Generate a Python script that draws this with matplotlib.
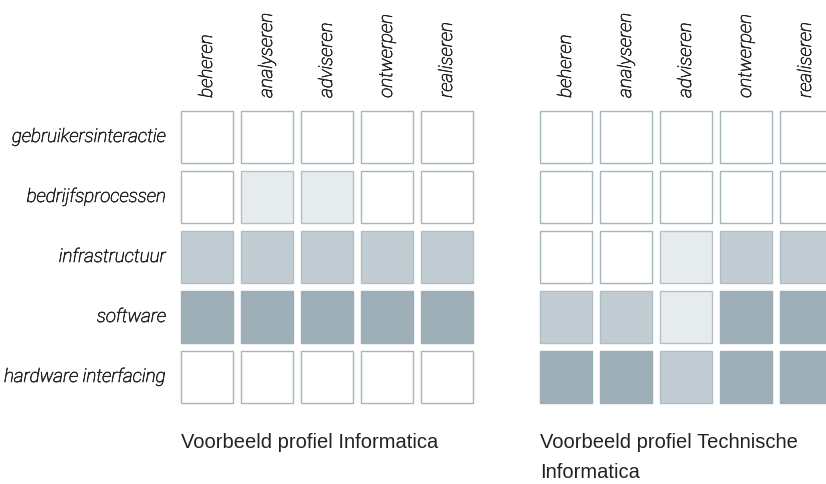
import matplotlib
matplotlib.use("Agg")
import matplotlib.pyplot as plt
import matplotlib.patheffects as pe
from matplotlib.patches import Rectangle

# competence grid: 0 = none, 1 = light, 2 = medium, 3 = strong
activities = ["beheren", "analyseren", "adviseren", "ontwerpen", "realiseren"]
domains = ["gebruikersinteractie", "bedrijfsprocessen", "infrastructuur",
           "software", "hardware interfacing"]

informatica = [
    [0, 0, 0, 0, 0],
    [0, 1, 1, 0, 0],
    [2, 2, 2, 2, 2],
    [3, 3, 3, 3, 3],
    [0, 0, 0, 0, 0],
]
technische_informatica = [
    [0, 0, 0, 0, 0],
    [0, 0, 0, 0, 0],
    [0, 0, 1, 2, 2],
    [2, 2, 1, 3, 3],
    [3, 3, 2, 3, 3],
]

titles = ["Voorbeeld profiel Informatica", "Voorbeeld profiel Technische\nInformatica"]

fills = ["#ffffff", "#e6ebee", "#c2cdd3", "#9fafb7"]
edges = ["#a7b5bc", "#b3c0c6", "#b0bdc4", "#9cadb5"]

W, H = 826, 484
PITCH = 60          # px between cells
CELL = 52 / PITCH   # cell size in grid units
FONT = "Roboto"
LABEL_COLOR = "#262626"
# light italic looks too faint on its own, thicken the strokes a bit
thicken = [pe.withStroke(linewidth=0.45, foreground=LABEL_COLOR)]

fig = plt.figure(figsize=(W / 100, H / 100), dpi=100)


def draw_panel(left_px, top_px, grid, title, row_labels):
    ax = fig.add_axes([left_px / W, 1 - (top_px + 5 * PITCH) / H,
                       5 * PITCH / W, 5 * PITCH / H])
    ax.set_xlim(0, 5)
    ax.set_ylim(5, 0)
    ax.axis("off")
    for i, row in enumerate(grid):
        for j, level in enumerate(row):
            ax.add_patch(Rectangle((j, i), CELL, CELL, facecolor=fills[level],
                                   edgecolor=edges[level], linewidth=1.0,
                                   clip_on=False))
    for j, name in enumerate(activities):
        ax.text(j + CELL / 2, -0.22, name, rotation=90, ha="center", va="bottom",
                fontsize=13.5, style="italic", fontweight="light",
                family=FONT, color=LABEL_COLOR, path_effects=thicken,
                clip_on=False)
    if row_labels:
        for i, name in enumerate(domains):
            ax.text(-0.25, i + CELL / 2, name, ha="right", va="center",
                    fontsize=13.5, style="italic", fontweight="light",
                    family=FONT, color=LABEL_COLOR, path_effects=thicken,
                    clip_on=False)
    ax.text(0, 5.36, title, ha="left", va="top", fontsize=14.5,
            family="Liberation Sans", color="#222222", linespacing=1.75,
            clip_on=False)


draw_panel(181, 111, informatica, titles[0], True)
draw_panel(540, 111, technische_informatica, titles[1], False)

fig.savefig("out.png", dpi=100)
